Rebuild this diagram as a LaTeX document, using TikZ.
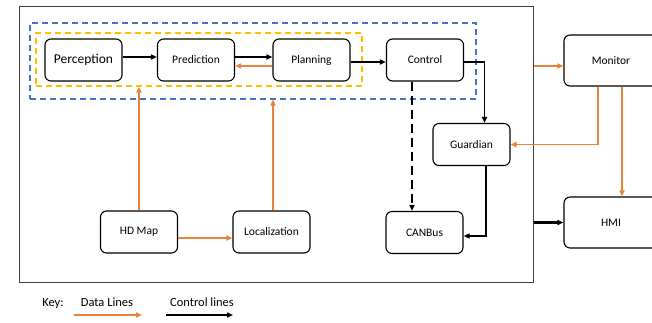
\documentclass[tikz,border=0pt]{standalone}
\usepackage{fontspec}
\setmainfont{Carlito}
\usetikzlibrary{arrows.meta}
\definecolor{dataorange}{HTML}{E8833A}
\definecolor{groupblue}{HTML}{4472C4}
\definecolor{groupyellow}{HTML}{FFC000}
\tikzset{
  module/.style={draw, rounded corners=6pt, line width=1.1pt, minimum width=77pt,
    minimum height=42pt, inner sep=0pt, font=\fontsize{11.5}{13}\selectfont},
  group/.style={draw, line width=1.2pt, dash pattern=on 6pt off 4pt, inner sep=0pt},
  dataline/.style={dataorange, line width=1.6pt, -{Triangle[length=6pt,width=5pt]}},
  ctrlline/.style={black, line width=1.6pt, -{Triangle[length=6pt,width=5pt]}},
  keytext/.style={font=\fontsize{12.5}{14}\selectfont}
}
\begin{document}
\begin{tikzpicture}[x=1pt,y=-1pt]
  \clip (0,0) rectangle (652,322);
  \fill[white] (0,0) rectangle (652,322);

  % Outer frame and groups
  \node[draw=gray!50!black, line width=1pt, minimum width=514pt, minimum height=276pt, inner sep=0pt] (frame) at (276,144) {};
  \node[group, draw=groupblue, minimum width=446pt, minimum height=76pt] (bluegroup) at (253,61) {};
  \node[group, draw=groupyellow, minimum width=326pt, minimum height=53pt] (yellowgroup) at (199,59.5) {};

  % Modules
  \node[module, font=\fontsize{13.5}{15}\selectfont] (perception) at (83.5,60) {Perception};
  \node[module] (prediction) at (196,60) {Prediction};
  \node[module] (planning) at (311.5,60) {Planning};
  \node[module] (control) at (425,60) {Control};
  \node[module] (guardian) at (471.5,144.5) {Guardian};
  \node[module] (canbus) at (424.5,232.5) {CANBus};
  \node[module] (hdmap) at (139,232) {HD Map};
  \node[module] (localization) at (271.5,232) {Localization};
  \node[module, minimum width=94pt, minimum height=51pt] (monitor) at (611,60.5) {Monitor};
  \node[module, minimum width=94pt, minimum height=51pt] (hmi) at (611,222.5) {HMI};

  % Control lines
  \draw[ctrlline] ([yshift=3pt]perception.east) -- ([yshift=3pt]prediction.west);
  \draw[ctrlline] ([yshift=3pt]prediction.east) -- ([yshift=3pt]planning.west);
  \draw[ctrlline] ([yshift=-2pt]planning.east) -- ([yshift=-2pt]control.west);
  \draw[ctrlline] ([yshift=-2pt]control.east) -| ([xshift=13pt]guardian.north);
  \draw[ctrlline, dash pattern=on 9pt off 5pt] ([xshift=-13pt]control.south) -- ([xshift=-12.5pt]canbus.north);
  \draw[ctrlline] ([xshift=14.5pt]guardian.south) |- ([yshift=-3.5pt]canbus.east);
  \draw[ctrlline, line width=2.4pt] (hmi.west -| frame.east) -- (hmi.west);

  % Data lines
  \draw[dataline] ([yshift=-6pt]planning.west) -- ([yshift=-6pt]prediction.east);
  \draw[dataline] (hdmap.north) -- (hdmap.north |- yellowgroup.south);
  \draw[dataline] ([xshift=1.5pt]localization.north) -- ([xshift=1.5pt]localization.north |- bluegroup.south);
  \draw[dataline] ([yshift=-6pt]hdmap.east) -- ([yshift=-6pt]localization.west);
  \draw[dataline] ([yshift=-5.5pt]monitor.west -| frame.east) -- ([yshift=-5.5pt]monitor.west);
  \draw[dataline] ([xshift=-13pt]monitor.south) |- (guardian.east);
  \draw[dataline] ([xshift=11pt]monitor.south) -- ([xshift=11pt]hmi.north);

  % Key
  \node[keytext] (keylabel) at (53,303) {Key:};
  \node[keytext] (datakey) at (107,302) {Data Lines};
  \node[keytext] (ctrlkey) at (202,302) {Control lines};
  \coordinate (datastart) at (74,315);
  \coordinate (dataend) at (142,315);
  \coordinate (ctrlstart) at (166,315);
  \coordinate (ctrlend) at (233,315);
  \draw[dataline, line width=2.2pt] (datastart) -- (dataend);
  \draw[ctrlline, line width=2.2pt] (ctrlstart) -- (ctrlend);
\end{tikzpicture}
\end{document}
